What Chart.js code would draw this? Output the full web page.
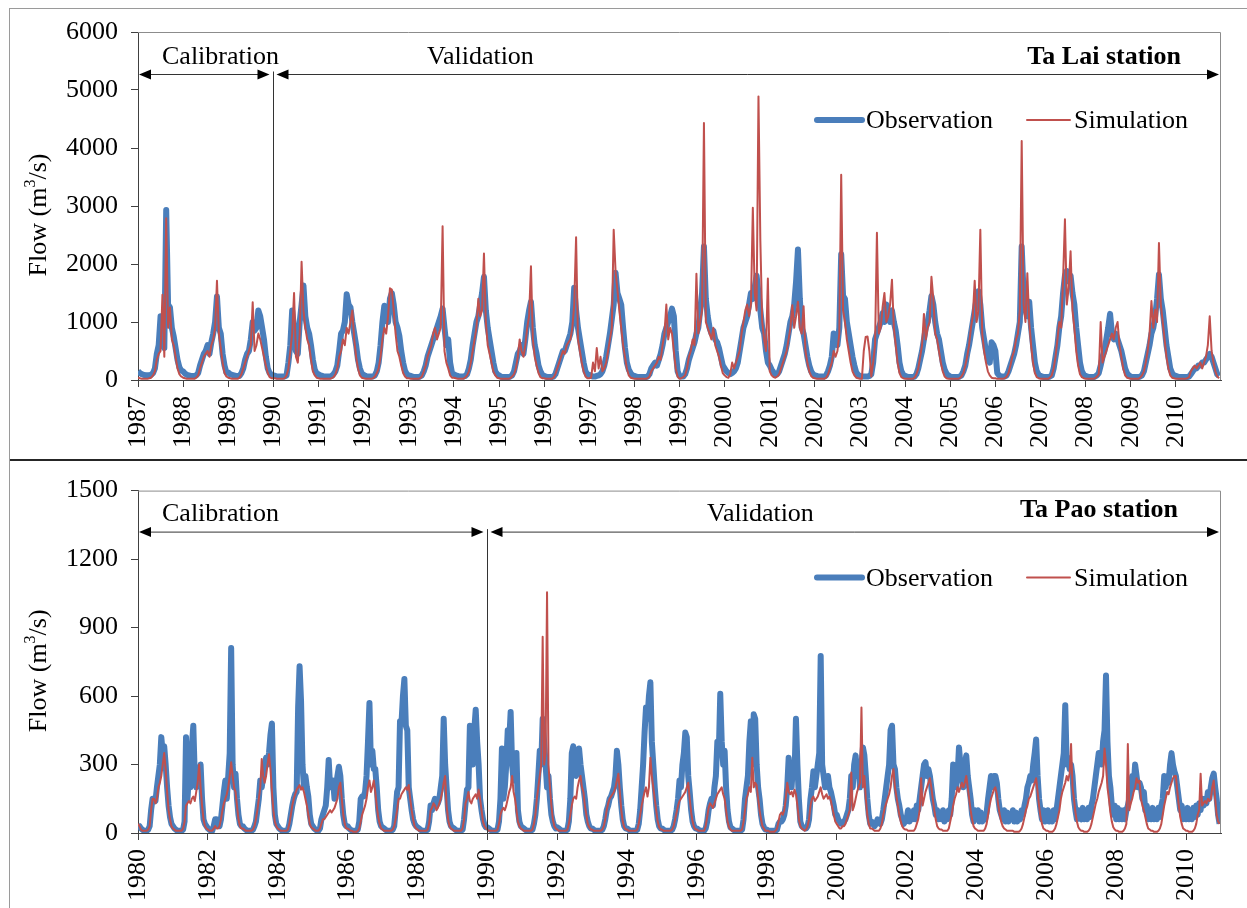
<!DOCTYPE html>
<html>
<head>
<meta charset="utf-8">
<script src="https://cdn.jsdelivr.net/npm/chart.js@4.4.1/dist/chart.umd.min.js"></script>
<style>
  html, body { margin: 0; padding: 0; background: #fff; }
  #page { position: relative; width: 1247px; height: 908px; overflow: hidden; }
  #frame { position: absolute; left: 9px; top: 8px; width: 1300px; height: 1000px;
           border-left: 1px solid #9a9a9a; border-top: 1px solid #9a9a9a; }
  #divider { position: absolute; left: 10px; top: 459px; width: 1237px; height: 2px; background: #262626; }
  canvas { position: absolute; left: 0; }
  #taLai { top: 0; }
  #taPao { top: 462px; }
</style>
</head>
<body>
<div id="page">
  <div id="frame"></div>
  <div id="divider"></div>
  <canvas id="taLai" width="1247" height="458"></canvas>
  <canvas id="taPao" width="1247" height="446"></canvas>
</div>
<script>
// half-monthly readings (24 per year), m3/s
const STEPS = 24;

const taLaiStart = 1987;
const taLaiEnd = 2011;
const taLaiXTicks = [1987, 1988, 1989, 1990, 1991, 1992, 1993, 1994, 1995, 1996, 1997, 1998,
  1999, 2000, 2001, 2002, 2003, 2004, 2005, 2006, 2007, 2008, 2009, 2010];
const taLaiYTicks = [0, 1000, 2000, 3000, 4000, 5000, 6000];

const taLaiObs = [
  150,120,100,90,80,80,80,90,120,200,450,600,1100,600,550,2930,1300,1250,900,750,550,350,220,160, // 1987
  150,110,90,80,70,70,70,80,120,250,350,450,500,600,450,650,800,1000,1440,900,800,450,250,130,
  130,100,90,80,70,70,70,120,200,350,450,500,700,1000,850,900,1200,1100,900,700,400,200,120,90,
  80,70,60,60,60,60,60,80,300,600,1200,900,500,450,1000,1300,1630,1100,900,800,600,350,180,110, // 1990
  100,80,70,60,60,60,60,70,100,150,250,500,800,850,1000,1480,1300,1250,1000,800,600,350,200,110,
  90,70,60,60,60,60,80,150,300,600,1000,1280,1250,1000,1400,1500,1300,1000,900,760,500,300,160,100,
  80,70,60,50,50,50,60,80,150,250,400,500,600,700,800,900,1000,1100,1230,900,600,700,300,120,
  100,80,70,60,60,60,70,100,200,350,600,800,1000,1100,1300,1500,1780,1200,900,700,500,300,150,100,
  80,60,50,50,50,50,60,80,150,300,450,500,600,450,700,1000,1200,1350,900,600,450,250,150,90, // 1995
  70,60,50,50,50,60,100,200,300,400,500,500,600,700,800,1000,1590,1200,900,700,500,300,150,90,
  90,70,60,60,70,80,100,150,250,400,600,800,1050,1300,1850,1500,1400,1300,900,550,300,180,120,80,
  70,60,50,50,50,50,50,60,100,200,250,300,250,350,450,600,800,900,1000,1100,1230,1100,500,150,
  70,60,60,100,200,350,450,550,650,800,900,1200,1500,2300,1400,1100,900,800,850,700,650,550,400,250,
  200,150,120,100,120,150,200,300,500,700,900,1000,1100,1300,1500,1400,1600,1800,1500,1200,900,800,500,300, // 2000
  250,180,130,100,100,150,250,350,450,600,800,1000,1100,1300,1700,2250,1400,900,800,600,400,250,150,100,
  80,70,60,60,60,60,80,150,250,400,800,700,600,900,2170,1450,1400,1000,800,600,400,250,130,90,
  70,60,60,60,60,70,100,300,700,800,900,1000,1150,1000,1300,1100,1000,1200,1000,850,600,300,150,90,
  70,60,50,50,50,60,100,200,350,500,700,900,1000,1200,1450,1300,1000,800,700,500,300,180,110,80,
  60,50,50,50,50,60,80,150,250,450,600,800,1000,1200,1400,1530,1300,900,700,500,350,300,650,600, // 2005
  500,120,80,60,60,60,80,150,250,350,450,600,800,1000,2300,1500,1200,1100,1350,900,600,300,150,90,
  70,60,50,50,50,60,80,200,400,600,900,1100,1500,1800,1880,1700,1800,1500,1300,900,600,300,150,90,
  70,60,50,50,50,60,80,120,250,400,500,700,900,1140,800,700,800,700,600,500,350,200,120,80,
  60,50,50,50,50,60,80,150,300,450,600,800,900,1100,1400,1820,1400,1200,900,600,400,200,120,80,
  70,60,50,50,50,50,50,60,100,150,200,200,250,250,300,300,350,400,450,400,300,200,100,70 // 2010
];

const taLaiSim = [
  40,30,20,20,20,20,30,40,80,150,350,450,500,1470,400,2790,900,1250,700,600,400,200,100,60, // 1987
  40,30,20,20,20,20,20,40,80,200,300,400,450,500,400,600,700,900,1710,800,550,300,120,60,
  40,30,20,20,20,20,40,100,200,300,400,500,600,1340,500,600,800,700,550,400,250,120,50,30,
  30,30,20,20,20,20,30,80,200,500,800,1500,400,300,800,2040,1200,900,700,600,350,150,80,40, // 1990
  30,20,20,20,20,20,20,30,50,100,200,400,500,700,600,900,800,1000,1200,700,400,200,80,40,
  30,20,20,20,20,30,60,120,200,400,700,900,800,1100,1580,1560,1200,800,500,400,250,120,60,30,
  30,20,20,20,20,20,30,60,150,250,400,500,600,800,900,700,800,900,2650,500,300,200,80,40,
  40,30,20,20,20,20,40,80,150,300,500,700,900,1400,1100,1200,2180,1000,600,450,300,150,80,40,
  30,20,20,20,20,20,30,60,100,200,400,700,500,400,600,900,1100,1960,700,400,250,120,50,30, // 1995
  30,20,20,20,20,40,100,200,300,400,500,450,600,650,700,900,1300,2460,700,500,300,150,60,30,
  30,40,300,150,550,200,400,150,200,300,500,700,900,2590,1870,1550,1200,900,600,400,200,80,40,30,
  20,20,20,20,20,20,20,30,60,150,200,250,300,400,350,600,800,1300,700,900,800,500,200,60,
  20,30,50,80,200,400,500,700,600,1830,800,1000,1200,4430,1000,900,800,700,900,600,500,400,250,120,
  80,50,40,100,300,200,300,400,500,800,1000,1200,1300,1100,1300,2970,1500,1200,4890,2400,1000,700,500,1750, // 2000
  150,80,50,40,60,100,200,300,400,500,700,900,1290,900,1100,1350,900,800,1270,500,300,150,70,40,
  30,20,20,20,20,20,40,100,200,300,500,400,500,800,3540,1200,1000,700,500,300,150,80,40,30,
  20,20,500,740,750,500,60,300,600,2540,800,900,1250,1500,1000,1100,1300,1730,900,600,300,120,50,30,
  20,20,20,20,20,40,100,200,400,600,1140,700,900,1000,1780,1400,800,700,500,300,150,60,30,20,
  20,20,20,20,20,30,60,120,250,400,600,900,1100,1710,1000,1200,2590,800,500,300,150,80,40,30, // 2005
  30,20,20,20,20,30,60,120,250,400,500,700,800,1200,4120,1300,1000,1840,1000,600,300,120,50,30,
  20,20,20,20,20,40,80,200,400,700,1000,900,1730,2770,1300,1600,2220,1200,900,500,250,100,50,30,
  20,20,20,20,20,30,60,100,1000,300,400,500,600,700,800,700,900,1000,600,400,200,80,40,30,
  20,20,20,20,20,40,80,150,300,500,800,1360,900,1210,1000,2360,1300,1000,700,400,200,80,40,30,
  20,20,20,20,20,20,30,50,150,200,250,200,250,300,200,300,400,600,1100,500,300,150,60,30 // 2010
];

const taPaoStart = 1980;
const taPaoEnd = 2011;
const taPaoXTicks = [1980, 1982, 1984, 1986, 1988, 1990, 1992, 1994, 1996, 1998, 2000, 2002,
  2004, 2006, 2008, 2010];
const taPaoYTicks = [0, 300, 600, 900, 1200, 1500];

const taPaoObs = [
  35,30,20,15,10,10,10,15,30,100,150,150,140,200,250,300,420,350,380,300,200,120,70,40, // 1980
  30,20,15,10,10,10,10,15,50,420,150,250,200,380,470,250,200,250,250,300,150,60,40,30,
  20,15,10,10,30,60,60,40,30,60,120,180,230,150,250,350,810,300,200,260,150,80,40,30,
  30,20,15,10,10,10,10,15,30,50,100,150,230,200,250,300,330,300,350,430,480,200,80,40,
  30,20,15,10,10,10,10,15,40,80,120,150,170,180,550,730,580,300,200,250,200,160,80,40,
  30,20,15,10,10,20,60,80,100,120,200,320,200,230,230,150,200,250,290,250,150,80,40,30, // 1985
  30,20,15,10,10,10,10,15,50,150,160,160,180,250,400,570,300,360,280,280,200,100,50,30,
  25,20,15,10,10,10,10,15,30,100,180,200,490,480,600,675,470,450,200,150,100,60,40,30,
  25,20,15,10,10,10,10,15,50,120,100,130,150,120,130,150,200,250,500,300,200,100,50,30,
  25,20,15,10,10,10,10,15,60,130,190,200,470,350,300,450,540,400,300,150,100,60,35,25,
  25,20,15,10,10,10,10,15,50,150,370,150,200,300,450,400,530,300,230,280,350,100,50,30, // 1990
  25,20,15,10,10,10,10,15,40,80,150,250,360,300,500,400,300,200,250,150,80,50,30,20,
  25,20,15,10,10,10,10,15,50,150,350,380,300,250,300,370,300,250,200,150,80,50,30,20,
  20,15,10,10,10,10,10,15,30,60,100,120,150,160,180,200,250,360,300,200,120,60,30,20,
  20,15,10,10,10,10,10,15,40,100,200,300,440,550,500,600,660,400,300,200,120,60,30,20,
  20,15,10,10,10,10,10,15,30,60,100,150,230,200,300,350,440,420,250,180,100,50,30,20, // 1995
  20,15,10,10,10,10,20,50,100,130,150,120,200,250,400,350,610,400,300,360,200,100,50,25,
  20,15,10,10,10,10,10,15,60,150,200,250,400,490,300,520,500,300,200,150,80,40,25,15,
  15,10,10,10,10,10,10,15,40,50,50,60,80,120,200,330,250,200,300,250,500,300,150,50,
  30,25,20,20,30,60,150,200,270,200,250,300,350,775,300,250,200,220,250,200,180,150,120,80,
  80,60,50,40,40,50,60,80,100,150,250,200,300,340,250,300,200,300,375,340,250,150,80,40, // 2000
  50,40,30,40,60,50,40,60,100,150,200,250,300,450,470,300,280,200,150,120,80,60,40,50,
  60,100,50,90,60,100,60,120,100,150,200,250,300,310,250,280,250,200,150,120,80,100,60,90,
  60,100,50,90,60,100,80,150,300,250,200,250,375,300,250,200,300,340,250,200,150,80,50,100,
  60,100,50,90,50,80,60,90,150,200,250,200,250,250,220,150,100,80,60,100,50,90,50,80,
  60,100,50,90,50,80,60,100,80,120,150,200,220,250,230,300,350,410,250,150,100,60,100,50, // 2005
  60,100,50,90,50,100,60,100,150,200,250,300,350,560,300,330,280,300,250,150,100,60,100,80,
  60,110,60,100,60,110,70,120,150,200,250,300,350,350,300,400,450,690,400,250,200,120,80,120,
  60,110,60,100,60,100,60,100,120,150,200,250,200,300,250,200,220,200,150,180,100,120,60,100,
  60,110,60,100,60,110,70,120,150,250,200,250,220,300,350,300,270,250,200,150,100,120,60,100,
  60,110,60,100,60,110,70,120,80,130,100,150,120,150,130,180,150,200,240,260,200,150,80,40 // 2010
];

const taPaoSim = [
  40,30,15,10,10,10,10,15,30,100,150,150,130,150,200,220,250,300,350,280,180,100,60,30, // 1980
  20,15,10,10,10,10,10,20,50,120,130,140,130,150,160,140,180,220,300,200,120,60,30,20,
  15,10,10,10,20,30,20,20,30,60,100,130,150,170,200,250,310,250,200,180,120,60,30,20,
  20,15,10,10,10,10,10,15,30,60,100,150,200,324,250,220,250,300,345,280,180,100,50,30,
  20,15,10,10,10,10,10,15,40,80,120,150,170,190,200,210,190,200,180,150,120,80,40,25,
  20,15,10,10,10,20,40,60,60,70,80,90,100,90,100,110,130,150,200,220,150,80,40,20, // 1985
  20,15,10,10,5,5,5,10,20,50,80,100,120,150,200,230,180,200,230,180,120,70,40,20,
  15,10,10,10,10,10,10,15,30,60,100,150,150,170,180,190,200,190,210,150,100,60,30,20,
  15,10,10,10,10,10,10,15,40,100,110,130,120,100,110,130,150,180,220,250,120,60,30,20,
  15,10,10,10,10,10,10,20,60,130,150,180,140,130,150,160,170,150,190,150,100,50,30,20,
  15,10,10,10,10,10,10,15,40,80,100,110,100,120,150,180,200,250,180,150,100,50,30,20, // 1990
  15,10,10,10,10,10,10,15,40,80,150,200,250,300,860,300,350,1055,300,200,120,60,30,20,
  15,10,10,10,10,10,10,15,40,80,120,150,160,150,200,230,250,200,180,120,80,40,25,15,
  15,10,10,10,10,10,10,15,30,60,100,130,150,160,170,180,200,230,260,180,100,50,25,15,
  15,10,10,10,10,10,10,15,40,80,120,150,180,200,160,200,330,250,200,150,100,50,25,15,
  15,10,10,10,10,10,10,15,30,60,90,120,140,150,160,170,180,200,220,150,90,50,25,15, // 1995
  15,10,10,10,10,10,30,70,110,130,120,110,130,150,170,180,190,200,170,150,100,50,25,15,
  10,10,10,10,10,10,10,15,50,100,150,170,200,180,330,200,220,210,150,100,60,30,20,10,
  10,10,5,5,5,5,10,20,50,80,90,80,100,150,220,180,170,180,160,190,170,120,60,30,
  20,15,10,15,30,60,120,150,160,140,150,160,180,200,170,150,160,170,150,160,140,110,80,50,
  40,30,20,20,30,30,40,60,80,100,265,100,120,150,180,200,220,550,200,250,150,80,40,20, // 2000
  20,15,10,10,10,10,20,40,80,110,130,150,170,200,250,280,200,160,120,80,50,30,20,15,
  15,10,10,10,10,10,20,40,60,100,240,120,150,180,200,220,240,200,150,100,60,30,20,15,
  15,10,10,10,10,20,50,80,120,150,170,200,180,200,220,200,220,250,200,150,100,60,30,20,
  15,10,10,10,10,10,20,40,80,120,150,170,190,200,170,120,80,50,30,20,15,10,10,10,
  10,10,5,5,5,5,10,20,40,70,100,120,150,160,180,200,220,240,180,120,70,40,20,15, // 2005
  10,10,5,5,5,10,20,40,70,100,150,180,200,220,250,230,260,390,200,150,90,50,25,15,
  10,10,5,5,5,10,20,40,70,100,130,150,180,200,220,250,370,300,200,150,90,50,25,15,
  10,10,5,5,5,10,20,40,390,100,130,150,180,200,240,220,230,150,120,100,70,40,20,15,
  10,10,5,5,5,10,20,40,80,120,150,180,170,200,220,240,250,250,180,120,70,40,20,15,
  10,10,5,5,5,10,20,40,80,100,260,120,130,140,130,150,140,150,200,230,150,80,50,40 // 2010
];

const BLUE = '#4a7ebb';
const RED = '#c0504d';
const AXIS = '#404040';
const FONT = "'Liberation Serif', 'Times New Roman', serif";

Chart.defaults.font.family = FONT;
Chart.defaults.font.size = 26;
Chart.defaults.color = '#000';

function series(values, start) {
  return values.map((v, i) => ({ x: start + i / STEPS, y: v }));
}

function head(ctx, tipX, y, dir) {
  ctx.beginPath();
  ctx.moveTo(tipX, y);
  ctx.lineTo(tipX - dir * 12, y - 5);
  ctx.lineTo(tipX - dir * 12, y + 5);
  ctx.closePath();
  ctx.fill();
}

function arrow(ctx, x1, x2, y) {
  ctx.beginPath();
  ctx.moveTo(x1 + 6, y);
  ctx.lineTo(x2 - 6, y);
  ctx.stroke();
  head(ctx, x1, y, -1);
  head(ctx, x2, y, 1);
}

// period arrows, station name, legend, y title and plot frame
const panelDecor = {
  id: 'panelDecor',
  afterDraw(chart, args, o) {
    const { ctx, chartArea: a } = chart;
    const xs = Math.round(chart.scales.x.getPixelForValue(o.split)) + 0.5;
    const ay = a.top + o.arrowDy + 0.5;
    ctx.save();

    ctx.strokeStyle = '#8c8c8c';
    ctx.lineWidth = 1;
    ctx.beginPath();
    ctx.moveTo(a.left, a.top + 0.5);
    ctx.lineTo(a.right - 0.5, a.top + 0.5);
    ctx.lineTo(a.right - 0.5, a.bottom);
    ctx.stroke();

    ctx.strokeStyle = '#333';
    ctx.fillStyle = '#000';
    ctx.beginPath();
    ctx.moveTo(xs, ay - 3);
    ctx.lineTo(xs, a.bottom);
    ctx.stroke();
    arrow(ctx, a.left + 1, xs - 4, ay);
    arrow(ctx, xs + 3, a.right - 2, ay);

    ctx.font = `26px ${FONT}`;
    ctx.textAlign = 'left';
    ctx.textBaseline = 'alphabetic';
    ctx.fillText('Calibration', a.left + 24, ay - 11);
    ctx.fillText('Validation', o.validationX, ay - 11);
    ctx.font = `bold 26px ${FONT}`;
    ctx.textAlign = 'right';
    ctx.fillText(o.station, a.right - o.stationInset, ay - o.stationRise);

    // legend
    const ly = a.top + o.legendDy;
    ctx.font = `26px ${FONT}`;
    ctx.textAlign = 'left';
    ctx.lineCap = 'round';
    o.legend.forEach((pos, i) => {
      const ds = chart.data.datasets[i];
      ctx.strokeStyle = ds.borderColor;
      ctx.lineWidth = ds.borderWidth;
      ctx.beginPath();
      ctx.moveTo(pos[0], ly);
      ctx.lineTo(pos[1], ly);
      ctx.stroke();
      ctx.fillText(ds.label, pos[2], ly + 8);
    });

    // y title with superscript
    ctx.translate(39, (a.top + a.bottom) / 2 + 9);
    ctx.rotate(-Math.PI / 2);
    ctx.textBaseline = 'middle';
    const big = `26px ${FONT}`, small = `16px ${FONT}`;
    ctx.font = big;
    const w1 = ctx.measureText('Flow (m').width;
    const w3 = ctx.measureText('/s)').width;
    ctx.font = small;
    const w2 = ctx.measureText('3').width;
    let tx = -(w1 + w2 + w3) / 2;
    ctx.font = big;
    ctx.fillText('Flow (m', tx, 0);
    ctx.font = small;
    ctx.fillText('3', tx + w1, -8);
    ctx.font = big;
    ctx.fillText('/s)', tx + w1 + w2, 0);

    ctx.restore();
  }
};

function makeChart(id, cfg) {
  return new Chart(document.getElementById(id), {
    type: 'line',
    data: {
      datasets: [
        { label: 'Observation', data: series(cfg.obs, cfg.start), borderColor: BLUE, borderWidth: 6,
          pointRadius: 0, tension: 0, borderJoinStyle: 'round', order: 1 },
        { label: 'Simulation', data: series(cfg.sim, cfg.start), borderColor: RED, borderWidth: 2,
          pointRadius: 0, tension: 0, borderJoinStyle: 'round', order: 0 }
      ]
    },
    options: {
      responsive: false,
      animation: false,
      layout: { padding: { top: cfg.top, right: 26, left: 0, bottom: 0 } },
      scales: {
        x: {
          type: 'linear',
          min: cfg.start,
          max: cfg.end,
          afterBuildTicks: ax => { ax.ticks = cfg.xTicks.map(v => ({ value: v })); },
          afterFit: ax => { ax.height = cfg.xAxisHeight; },
          border: { display: true, color: AXIS, width: 1 },
          grid: { display: true, drawOnChartArea: false, drawTicks: true, tickLength: 7, color: AXIS },
          ticks: { autoSkip: false, minRotation: 90, maxRotation: 90, padding: 9,
                   font: { size: 26 }, callback: v => String(v) }
        },
        y: {
          min: 0,
          max: cfg.yTicks[cfg.yTicks.length - 1],
          afterBuildTicks: ax => { ax.ticks = cfg.yTicks.map(v => ({ value: v })); },
          afterFit: ax => { ax.width = 138; },
          border: { display: true, color: AXIS, width: 1 },
          grid: { display: true, drawOnChartArea: false, drawTicks: true, tickLength: 7, color: AXIS },
          ticks: { padding: 13, font: { size: 26 }, callback: v => String(v) }
        }
      },
      plugins: {
        legend: { display: false },
        tooltip: { enabled: false },
        panelDecor: cfg.decor
      }
    },
    plugins: [panelDecor]
  });
}

makeChart('taLai', {
  obs: taLaiObs, sim: taLaiSim, start: taLaiStart, end: taLaiEnd,
  xTicks: taLaiXTicks, yTicks: taLaiYTicks, top: 32, xAxisHeight: 78,
  decor: { split: 1990, arrowDy: 42, validationX: 427, station: 'Ta Lai station',
           stationInset: 40, stationRise: 11, legendDy: 88,
           legend: [[817, 862, 866], [1027, 1070, 1074]] }
});

makeChart('taPao', {
  obs: taPaoObs, sim: taPaoSim, start: taPaoStart, end: taPaoEnd,
  xTicks: taPaoXTicks, yTicks: taPaoYTicks, top: 24, xAxisHeight: 75,
  decor: { split: 1990, arrowDy: 41, validationX: 707, station: 'Ta Pao station',
           stationInset: 43, stationRise: 15, legendDy: 87,
           legend: [[817, 862, 866], [1027, 1070, 1074]] }
});
</script>
</body>
</html>
